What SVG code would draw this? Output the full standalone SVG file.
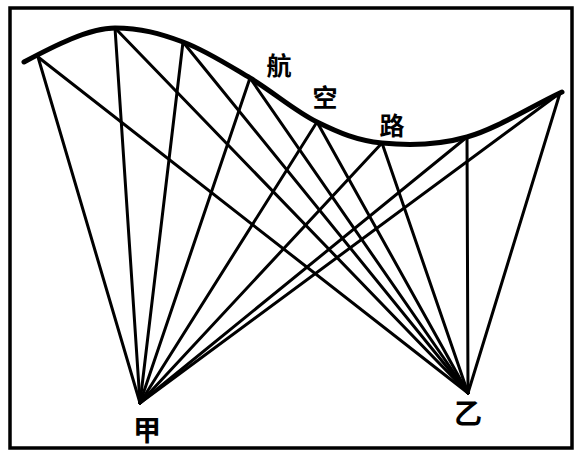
<svg xmlns="http://www.w3.org/2000/svg" width="577" height="456" viewBox="0 0 577 456">
<style>
.frame{fill:none;stroke:#000;stroke-width:3.5}
.route{fill:none;stroke:#000;stroke-width:5;stroke-linecap:round}
.ray{stroke:#000;stroke-width:3;stroke-linecap:round}
.lbl{font-family:"Noto Sans CJK SC","Noto Sans CJK JP",sans-serif;font-weight:bold;font-size:25px;text-anchor:middle;dominant-baseline:central;fill:#000}
.pt{font-size:28px}
</style>
<rect x="0" y="0" width="577" height="456" fill="#fff"/>
<rect id="frame" class="frame" x="10" y="8" width="562" height="440"/>
<g id="air-route">
<path class="route" d="M24,62 C54,46 89,28 115,28 C141,28 160.5,33.7 183,42 C205.5,50.3 227.7,64.7 250,78 C272.3,91.3 295,111.2 317,122 C339,132.8 357,140.5 382,143 C407,145.5 437,145.5 467,137 C497,128.5 530,107 562,92"/>
<text class="lbl" x="279" y="64">航</text>
<text class="lbl" x="325" y="96">空</text>
<text class="lbl" x="392" y="124">路</text>
</g>
<g id="jia">
<text class="lbl pt" x="147" y="429">甲</text>
</g>
<g id="yi">
<text class="lbl pt" x="468" y="412">乙</text>
</g>
<g id="connectors">
<line class="ray" x1="38" y1="57" x2="140" y2="403"/>
<line class="ray" x1="115" y1="28" x2="140" y2="403"/>
<line class="ray" x1="183" y1="42" x2="140" y2="403"/>
<line class="ray" x1="250" y1="78" x2="140" y2="403"/>
<line class="ray" x1="317" y1="122" x2="140" y2="403"/>
<line class="ray" x1="382" y1="143" x2="140" y2="403"/>
<line class="ray" x1="467" y1="137" x2="140" y2="403"/>
<line class="ray" x1="560" y1="93" x2="140" y2="403"/>
<line class="ray" x1="38" y1="57" x2="468" y2="393"/>
<line class="ray" x1="115" y1="28" x2="468" y2="393"/>
<line class="ray" x1="183" y1="42" x2="468" y2="393"/>
<line class="ray" x1="250" y1="78" x2="468" y2="393"/>
<line class="ray" x1="317" y1="122" x2="468" y2="393"/>
<line class="ray" x1="382" y1="143" x2="468" y2="393"/>
<line class="ray" x1="467" y1="137" x2="468" y2="393"/>
<line class="ray" x1="560" y1="93" x2="468" y2="393"/>
</g>
</svg>
